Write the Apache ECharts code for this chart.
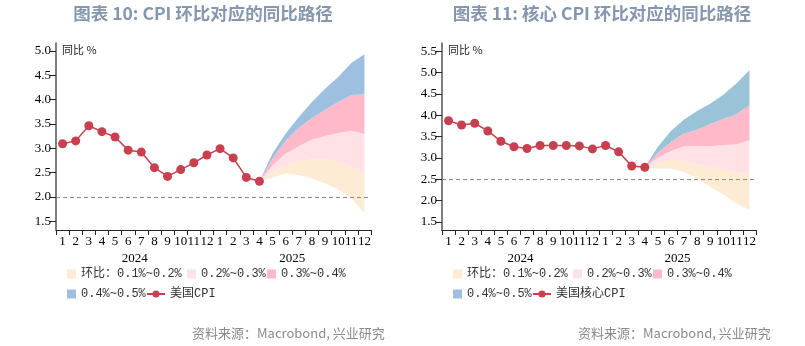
<!DOCTYPE html>
<html>
<head>
<meta charset="utf-8">
<script src="https://cdn.jsdelivr.net/npm/echarts@6/dist/echarts.min.js"></script>
<style>
  html, body { margin: 0; padding: 0; background: #fff; }
  #chart { width: 805px; height: 346px; }
</style>
</head>
<body>
<div id="chart"></div>
<script>
// Month labels for Jan 2024 .. Dec 2025, and the year labels below them
const months = ['1','2','3','4','5','6','7','8','9','10','11','12',
                '1','2','3','4','5','6','7','8','9','10','11','12'];
const years = ['2024', '2025'];

// Headline CPI, YoY %, Jan 2024 .. Apr 2025
const cpiActual = [3.09, 3.15, 3.46, 3.34, 3.23, 2.96, 2.92, 2.60, 2.42, 2.56, 2.70, 2.86,
                   2.99, 2.80, 2.40, 2.32];
// Headline CPI YoY paths, Apr 2025 .. Dec 2025, for a given constant MoM pace
const cpiPath01 = [2.32, 2.40, 2.48, 2.45, 2.38, 2.28, 2.15, 1.97, 1.67];
const cpiPath02 = [2.32, 2.51, 2.65, 2.74, 2.77, 2.77, 2.72, 2.63, 2.49];
const cpiPath03 = [2.32, 2.65, 2.89, 3.04, 3.18, 3.25, 3.31, 3.36, 3.29];
const cpiPath04 = [2.32, 2.79, 3.16, 3.42, 3.62, 3.79, 3.95, 4.09, 4.11];
const cpiPath05 = [2.32, 2.89, 3.30, 3.64, 3.95, 4.22, 4.46, 4.75, 4.93];

// Core CPI, YoY %, Jan 2024 .. Apr 2025
const coreActual = [3.87, 3.77, 3.81, 3.63, 3.39, 3.26, 3.22, 3.29, 3.29, 3.29, 3.28, 3.21,
                    3.29, 3.14, 2.81, 2.78];
// Core CPI YoY paths, Apr 2025 .. Dec 2025
const corePath01 = [2.78, 2.75, 2.75, 2.67, 2.52, 2.32, 2.15, 1.93, 1.79];
const corePath02 = [2.78, 2.87, 2.96, 2.93, 2.85, 2.79, 2.73, 2.67, 2.61];
const corePath03 = [2.78, 3.01, 3.16, 3.27, 3.27, 3.27, 3.30, 3.32, 3.41];
const corePath04 = [2.78, 3.12, 3.37, 3.57, 3.66, 3.79, 3.91, 4.02, 4.23];
const corePath05 = [2.78, 3.26, 3.63, 3.90, 4.10, 4.27, 4.48, 4.74, 5.05];

const leftTicks = [1.5, 2.0, 2.5, 3.0, 3.5, 4.0, 4.5, 5.0];
const rightTicks = [1.5, 2.0, 2.5, 3.0, 3.5, 4.0, 4.5, 5.0, 5.5];

const bandNames = ['环比：0.1%~0.2%', '0.2%~0.3%', '0.3%~0.4%', '0.4%~0.5%'];
const lineColor = '#C8404F';
const bandColorsLeft = ['#FDEBD3', '#FFE1E6', '#FFB9C9', '#9DBFE0'];
const bandColorsRight = ['#FDEBD3', '#FFE1E6', '#FFB9C9', '#9AC3D8'];
const startIdx = 15; // Apr 2025

const serif = "'Liberation Serif', 'Times New Roman', serif";
const mono = "'Liberation Mono', 'Noto Sans CJK SC', monospace";

function pad(arr, offset) {
  const out = new Array(months.length).fill(null);
  arr.forEach((v, i) => { out[offset + i] = v; });
  return out;
}

function diff(upper, lower) {
  return upper.map((v, i) => +(v - lower[i]).toFixed(3));
}

// Invisible base path plus stacked bands between consecutive MoM paths, then the actual line
function buildSeries(prefix, xi, yi, actual, paths, colors, lineName, refLevel) {
  const list = [];
  const stack = prefix + 'stack';
  list.push({
    name: prefix + 'base', type: 'line', xAxisIndex: xi, yAxisIndex: yi,
    stack: stack, data: pad(paths[0], startIdx), symbol: 'none',
    lineStyle: { opacity: 0 }, silent: true, z: 1
  });
  for (let k = 1; k < paths.length; k++) {
    list.push({
      name: bandNames[k - 1], type: 'line', xAxisIndex: xi, yAxisIndex: yi,
      stack: stack, data: pad(diff(paths[k], paths[k - 1]), startIdx), symbol: 'none',
      lineStyle: { width: 0 }, itemStyle: { color: colors[k - 1] },
      areaStyle: { color: colors[k - 1], opacity: 1 }, z: 1
    });
  }
  list.push({
    name: lineName, type: 'line', xAxisIndex: xi, yAxisIndex: yi,
    data: pad(actual, 0), symbol: 'circle', symbolSize: 9,
    itemStyle: { color: lineColor }, lineStyle: { color: lineColor, width: 1.5 }, z: 5,
    markLine: {
      silent: true, symbol: 'none', label: { show: false },
      lineStyle: { color: '#8A8A8A', type: [4, 3], width: 1.2 },
      data: [{ yAxis: refLevel }]
    }
  });
  return list;
}

function xAxes(gridIndex) {
  return [
    {
      gridIndex: gridIndex, type: 'category', data: months, boundaryGap: true,
      axisLine: { lineStyle: { color: '#222', width: 1 } },
      axisTick: { show: true, interval: 0, length: 5, lineStyle: { color: '#222' } },
      axisLabel: { interval: 0, margin: 5, color: '#000', fontFamily: serif, fontSize: 13, hideOverlap: false },
      splitLine: { show: false }
    },
    {
      gridIndex: gridIndex, type: 'category', data: years, position: 'bottom',
      axisLine: { show: false }, axisTick: { show: false },
      axisLabel: { margin: 22, color: '#000', fontFamily: serif, fontSize: 13 },
      splitLine: { show: false }
    }
  ];
}

function yAxis(gridIndex, min, max, ticks) {
  return {
    gridIndex: gridIndex, type: 'value', min: min, max: max,
    axisLine: { show: true, lineStyle: { color: '#555', width: 1.5 } },
    axisTick: { show: true, length: 6, customValues: ticks, lineStyle: { color: '#222' } },
    axisLabel: { customValues: ticks, margin: 5, color: '#000', fontFamily: serif, fontSize: 13,
                 formatter: v => v.toFixed(1) },
    splitLine: { show: false }
  };
}

function legendItem(name, left, top, isLine) {
  return {
    show: true, left: left, top: top, padding: 0, itemGap: 5,
    itemWidth: isLine ? 18 : 9, itemHeight: 9,
    icon: isLine ? undefined : 'rect',
    data: [name],
    textStyle: { fontFamily: mono, fontSize: 12, color: '#333' },
    selectedMode: false
  };
}

const legends = [];
[[67, 187, 267], [453, 573, 653]].forEach((xs) => {
  legends.push(legendItem(bandNames[0], xs[0], 268, false));
  legends.push(legendItem(bandNames[1], xs[1], 268, false));
  legends.push(legendItem(bandNames[2], xs[2], 268, false));
  legends.push(legendItem(bandNames[3], xs[0], 288, false));
});
legends.push(legendItem('美国CPI', 146, 288, true));
legends.push(legendItem('美国核心CPI', 532, 288, true));

const series = []
  .concat(buildSeries('L', 0, 0, cpiActual,
    [cpiPath01, cpiPath02, cpiPath03, cpiPath04, cpiPath05], bandColorsLeft, '美国CPI', 2.0))
  .concat(buildSeries('R', 2, 1, coreActual,
    [corePath01, corePath02, corePath03, corePath04, corePath05], bandColorsRight, '美国核心CPI', 2.5));

const titleStyle = { fill: '#8496B0', font: "bold 17.5px 'Noto Sans CJK SC', sans-serif", textAlign: 'center', textVerticalAlign: 'middle' };
const noteStyle = { fill: '#8A8A8A', font: "13px 'Noto Sans CJK SC', sans-serif", textVerticalAlign: 'middle' };
const unitStyle = { fill: '#222', font: "11px 'Noto Sans CJK SC', sans-serif", textVerticalAlign: 'middle' };

const option = {
  animation: false,
  backgroundColor: '#fff',
  grid: [
    { left: 56, top: 43, width: 315, height: 187 },
    { left: 442, top: 43, width: 314, height: 187 }
  ],
  xAxis: xAxes(0).concat(xAxes(1)),
  yAxis: [yAxis(0, 1.32, 5.16, leftTicks), yAxis(1, 1.31, 5.69, rightTicks)],
  legend: legends,
  series: series,
  graphic: [
    { type: 'text', x: 203, y: 13, style: Object.assign({ text: '图表 10: CPI 环比对应的同比路径' }, titleStyle) },
    { type: 'text', x: 602, y: 13, style: Object.assign({ text: '图表 11: 核心 CPI 环比对应的同比路径' }, titleStyle) },
    { type: 'text', x: 62, y: 50, style: Object.assign({ text: '同比 %' }, unitStyle) },
    { type: 'text', x: 448, y: 50, style: Object.assign({ text: '同比 %' }, unitStyle) },
    { type: 'text', x: 192, y: 333, style: Object.assign({ text: '资料来源：Macrobond, 兴业研究' }, noteStyle) },
    { type: 'text', x: 578, y: 333, style: Object.assign({ text: '资料来源：Macrobond, 兴业研究' }, noteStyle) }
  ]
};

const chart = echarts.init(document.getElementById('chart'), null, { renderer: 'canvas' });
chart.setOption(option);
</script>
</body>
</html>
